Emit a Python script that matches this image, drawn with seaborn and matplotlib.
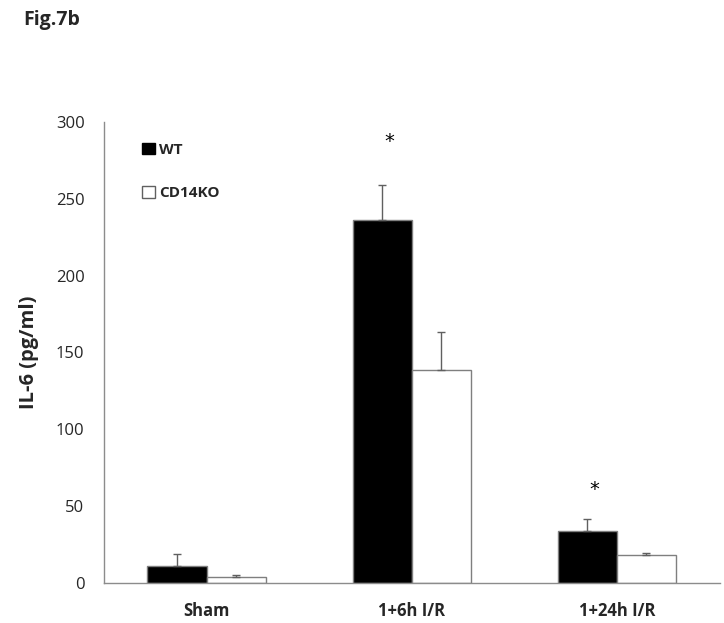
import matplotlib
matplotlib.use("Agg")
import matplotlib.pyplot as plt
import seaborn as sns
import pandas as pd
from matplotlib.patches import Patch

categories = ["Sham", "1+6h I/R", "1+24h I/R"]
groups = ["WT", "CD14KO"]
wt_values = [10.8, 236, 33.8]
wt_err = [7.9, 23, 7.8]
ko_values = [4.1, 138.5, 18.2]
ko_err = [1.0, 25, 1.6]
yticks = [0, 50, 100, 150, 200, 250, 300]
star_y = [None, 287, 61]

sns.set_style("white")
plt.rcParams['font.family'] = ['Open Sans', 'DejaVu Sans']

df = pd.DataFrame({
    "cat": categories * 2,
    "grp": ["WT"] * 3 + ["CD14KO"] * 3,
    "val": wt_values + ko_values,
})

fig = plt.figure(figsize=(7.24, 6.23), dpi=100)
ax = fig.add_axes([0.1436, 0.0642, 0.8502, 0.74])

sns.barplot(data=df, x="cat", y="val", hue="grp", hue_order=groups,
            order=categories, palette={"WT": "black", "CD14KO": "white"},
            edgecolor="#7f7f7f", linewidth=1.0, width=0.576, gap=0,
            errorbar=None, ax=ax, legend=False)

gray = "#606060"
for cont, errs in zip(ax.containers, [wt_err, ko_err]):
    for bar, e in zip(cont, errs):
        xc = bar.get_x() + bar.get_width() / 2
        h = bar.get_height()
        ax.errorbar(xc, h, yerr=[[0], [e]], fmt="none", ecolor=gray,
                    elinewidth=1.0, capsize=3, capthick=1.0)

for cont in ax.containers[:1]:
    for bar, sy in zip(cont, star_y):
        if sy is not None:
            xc = bar.get_x() + bar.get_width() / 2 + 0.035
            ax.text(xc, sy, "*", ha="center", va="center", fontsize=14,
                    fontweight="normal", color="black",
                    family=["DejaVu Sans"])

ax.set_xlim(-0.5, 2.5)
ax.set_ylim(0, 300)
ax.set_yticks(yticks)
ax.set_yticklabels([str(t) for t in yticks], fontsize=12)
ax.set_xticks(range(len(categories)))
ax.set_xticklabels(categories, fontsize=12, fontweight="bold")
ax.set_xlabel("")
ax.set_ylabel("IL-6 (pg/ml)", fontsize=14.5, fontweight="bold", labelpad=12)

for s in ["top", "right"]:
    ax.spines[s].set_visible(False)
for s in ["left", "bottom"]:
    ax.spines[s].set_color("#8c8c8c")
    ax.spines[s].set_linewidth(1.0)
ax.tick_params(axis="y", direction="out", length=6, color="#8c8c8c", width=1, pad=8)
ax.tick_params(axis="x", length=0, pad=14)

handles = [Patch(facecolor="black", edgecolor="black", label="WT"),
           Patch(facecolor="white", edgecolor="#606060", label="CD14KO")]
leg = ax.legend(handles=handles, loc="upper left", bbox_to_anchor=(0.04, 0.985),
                frameon=False, handlelength=0.8, handleheight=0.8,
                handletextpad=0.3, labelspacing=1.9,
                prop={"weight": "bold", "size": 11})

fig.text(0.032, 0.968, "Fig.7b", fontsize=14, fontweight="bold", va="center", ha="left")

fig.savefig("out.png", dpi=100)
